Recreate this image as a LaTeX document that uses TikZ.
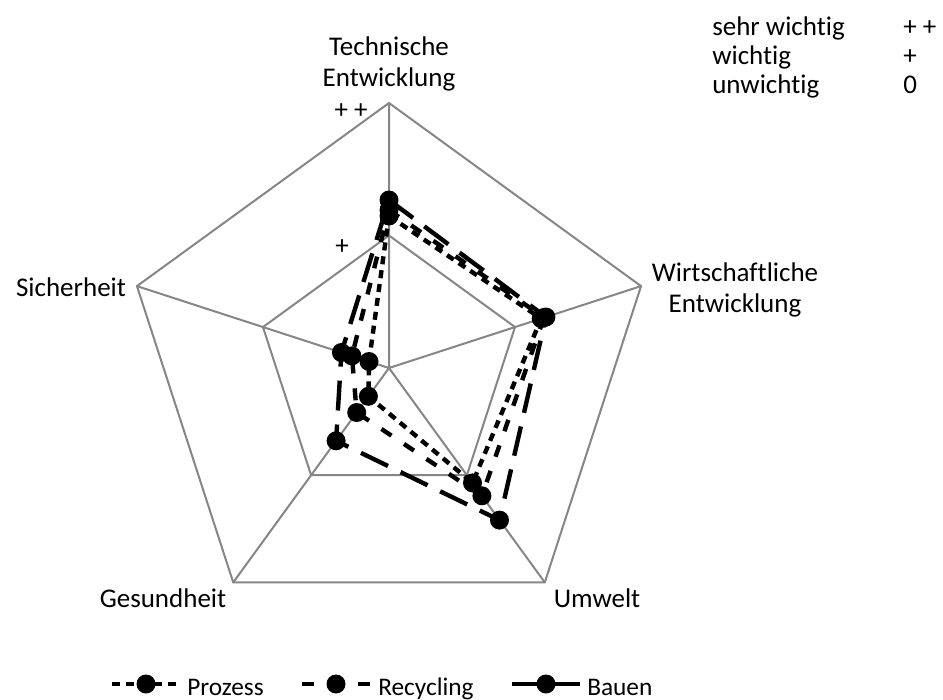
\documentclass[tikz,border=0pt]{standalone}
\usepackage{fontspec}
\setmainfont{Carlito}[Ligatures=NoCommon]
\usepackage{tikz}

\begin{document}
\begin{tikzpicture}[x=0.75pt,y=0.75pt,yscale=-1,xscale=1,
  gridline/.style={draw={rgb, 255:red, 134; green, 134; blue, 134 }, line width=1.5pt},
  series/.style={draw=black, line width=3.3pt, line cap=butt, line join=round},
  prozess/.style={series, dash pattern=on 6pt off 4.5pt},
  recycling/.style={series, dash pattern=on 9pt off 11.25pt},
  bauen/.style={series, dash pattern=on 22.5pt off 10.5pt},
  lbl/.style={inner sep=0pt, font=\fontsize{20.25}{23.25}\selectfont},
  keytext/.style={inner sep=0pt, anchor=base west, font=\fontsize{19}{21}\selectfont}]
\useasboundingbox (0,0) rectangle (943,700);

%Grid points
\coordinate (o) at (389,368);
\coordinate (oT) at (389,103);
\coordinate (oW) at (641.04,286.11);
\coordinate (oU) at (544.77,582.39);
\coordinate (oG) at (233.23,582.39);
\coordinate (oS) at (136.96,286.11);
\coordinate (iT) at (389,235.5);
\coordinate (iW) at (515.02,327.06);
\coordinate (iU) at (466.88,475.19);
\coordinate (iG) at (311.12,475.19);
\coordinate (iS) at (262.98,327.06);

%Pentagons and spokes
\draw [gridline] (oT) -- (oW) -- (oU) -- (oG) -- (oS) -- cycle;
\draw [gridline] (iT) -- (iW) -- (iU) -- (iG) -- (iS) -- cycle;
\draw [gridline] (o) -- (oT) (o) -- (oW) (o) -- (oU) (o) -- (oG) (o) -- (oS);

%Prozess
\coordinate (pT) at (389,216);
\coordinate (pW) at (541.2,318.6);
\coordinate (pU) at (472.5,482.9);
\coordinate (pG) at (368.4,396.3);
\coordinate (pS) at (369.0,361.5);
\draw [prozess] (pT) -- (pW) -- (pU) -- (pG) -- (pS) -- cycle;
\fill (pT) circle (9.5) (pW) circle (9.5) (pU) circle (9.5) (pG) circle (9.5) (pS) circle (9.5);

%Recycling
\coordinate (rT) at (389,210);
\coordinate (rW) at (544.0,317.6);
\coordinate (rU) at (481.9,495.8);
\coordinate (rG) at (356.7,412.5);
\coordinate (rS) at (351.9,355.9);
\draw [recycling] (rT) -- (rW) -- (rU) -- (rG) -- (rS) -- cycle;
\fill (rT) circle (9.5) (rW) circle (9.5) (rU) circle (9.5) (rG) circle (9.5) (rS) circle (9.5);

%Bauen
\coordinate (bT) at (389,200);
\coordinate (bW) at (545.9,317.0);
\coordinate (bU) at (499.5,520.1);
\coordinate (bG) at (336.1,440.8);
\coordinate (bS) at (341.4,352.5);
\draw [bauen] (bT) -- (bW) -- (bU) -- (bG) -- (bS) -- cycle;
\fill (bT) circle (9.5) (bW) circle (9.5) (bU) circle (9.5) (bG) circle (9.5) (bS) circle (9.5);

% Text Node
\node [lbl, align=center] (tech) at (389,64) {Technische\\Entwicklung};
% Text Node
\node [lbl, align=center] (wirt) at (735,290) {Wirtschaftliche\\Entwicklung};
% Text Node
\node [lbl] (umwelt) at (597,598) {Umwelt};
% Text Node
\node [lbl] (gesund) at (163,598) {Gesundheit};
% Text Node
\node [lbl] (sicher) at (71,287) {Sicherheit};
% Text Node
\node [lbl] (pp) at (351,111) {+ +};
% Text Node
\node [lbl] (p) at (342,247) {+};

%Scale key
\node [lbl, anchor=base west] (k1) at (712,35) {sehr wichtig};
\node [lbl, anchor=base west] (k2) at (712,64) {wichtig};
\node [lbl, anchor=base west] (k3) at (712,93) {unwichtig};
\node [lbl, anchor=base west] (v1) at (903,35) {+ +};
\node [lbl, anchor=base west] (v2) at (903,64) {+};
\node [lbl, anchor=base west] (v3) at (903,93) {0};

%Legend
\coordinate (lp1) at (112,684);
\coordinate (lp2) at (180,684);
\coordinate (lpm) at (146,684);
\draw [prozess] (lp1) -- (lp2);
\fill (lpm) circle (9.5);
\node [keytext] (lpt) at (187,695) {Prozess};
\coordinate (lr1) at (302,684);
\coordinate (lr2) at (314,684);
\coordinate (lr3) at (358,684);
\coordinate (lr4) at (370,684);
\coordinate (lrm) at (336,684);
\draw [series] (lr1) -- (lr2) (lr3) -- (lr4);
\fill (lrm) circle (9.5);
\node [keytext] (lrt) at (378,695) {Recycling};
\coordinate (lb1) at (512,684);
\coordinate (lb2) at (580,684);
\coordinate (lbm) at (546,684);
\draw [series] (lb1) -- (lb2);
\fill (lbm) circle (9.5);
\node [keytext] (lbt) at (587,695) {Bauen};

\end{tikzpicture}
\end{document}
